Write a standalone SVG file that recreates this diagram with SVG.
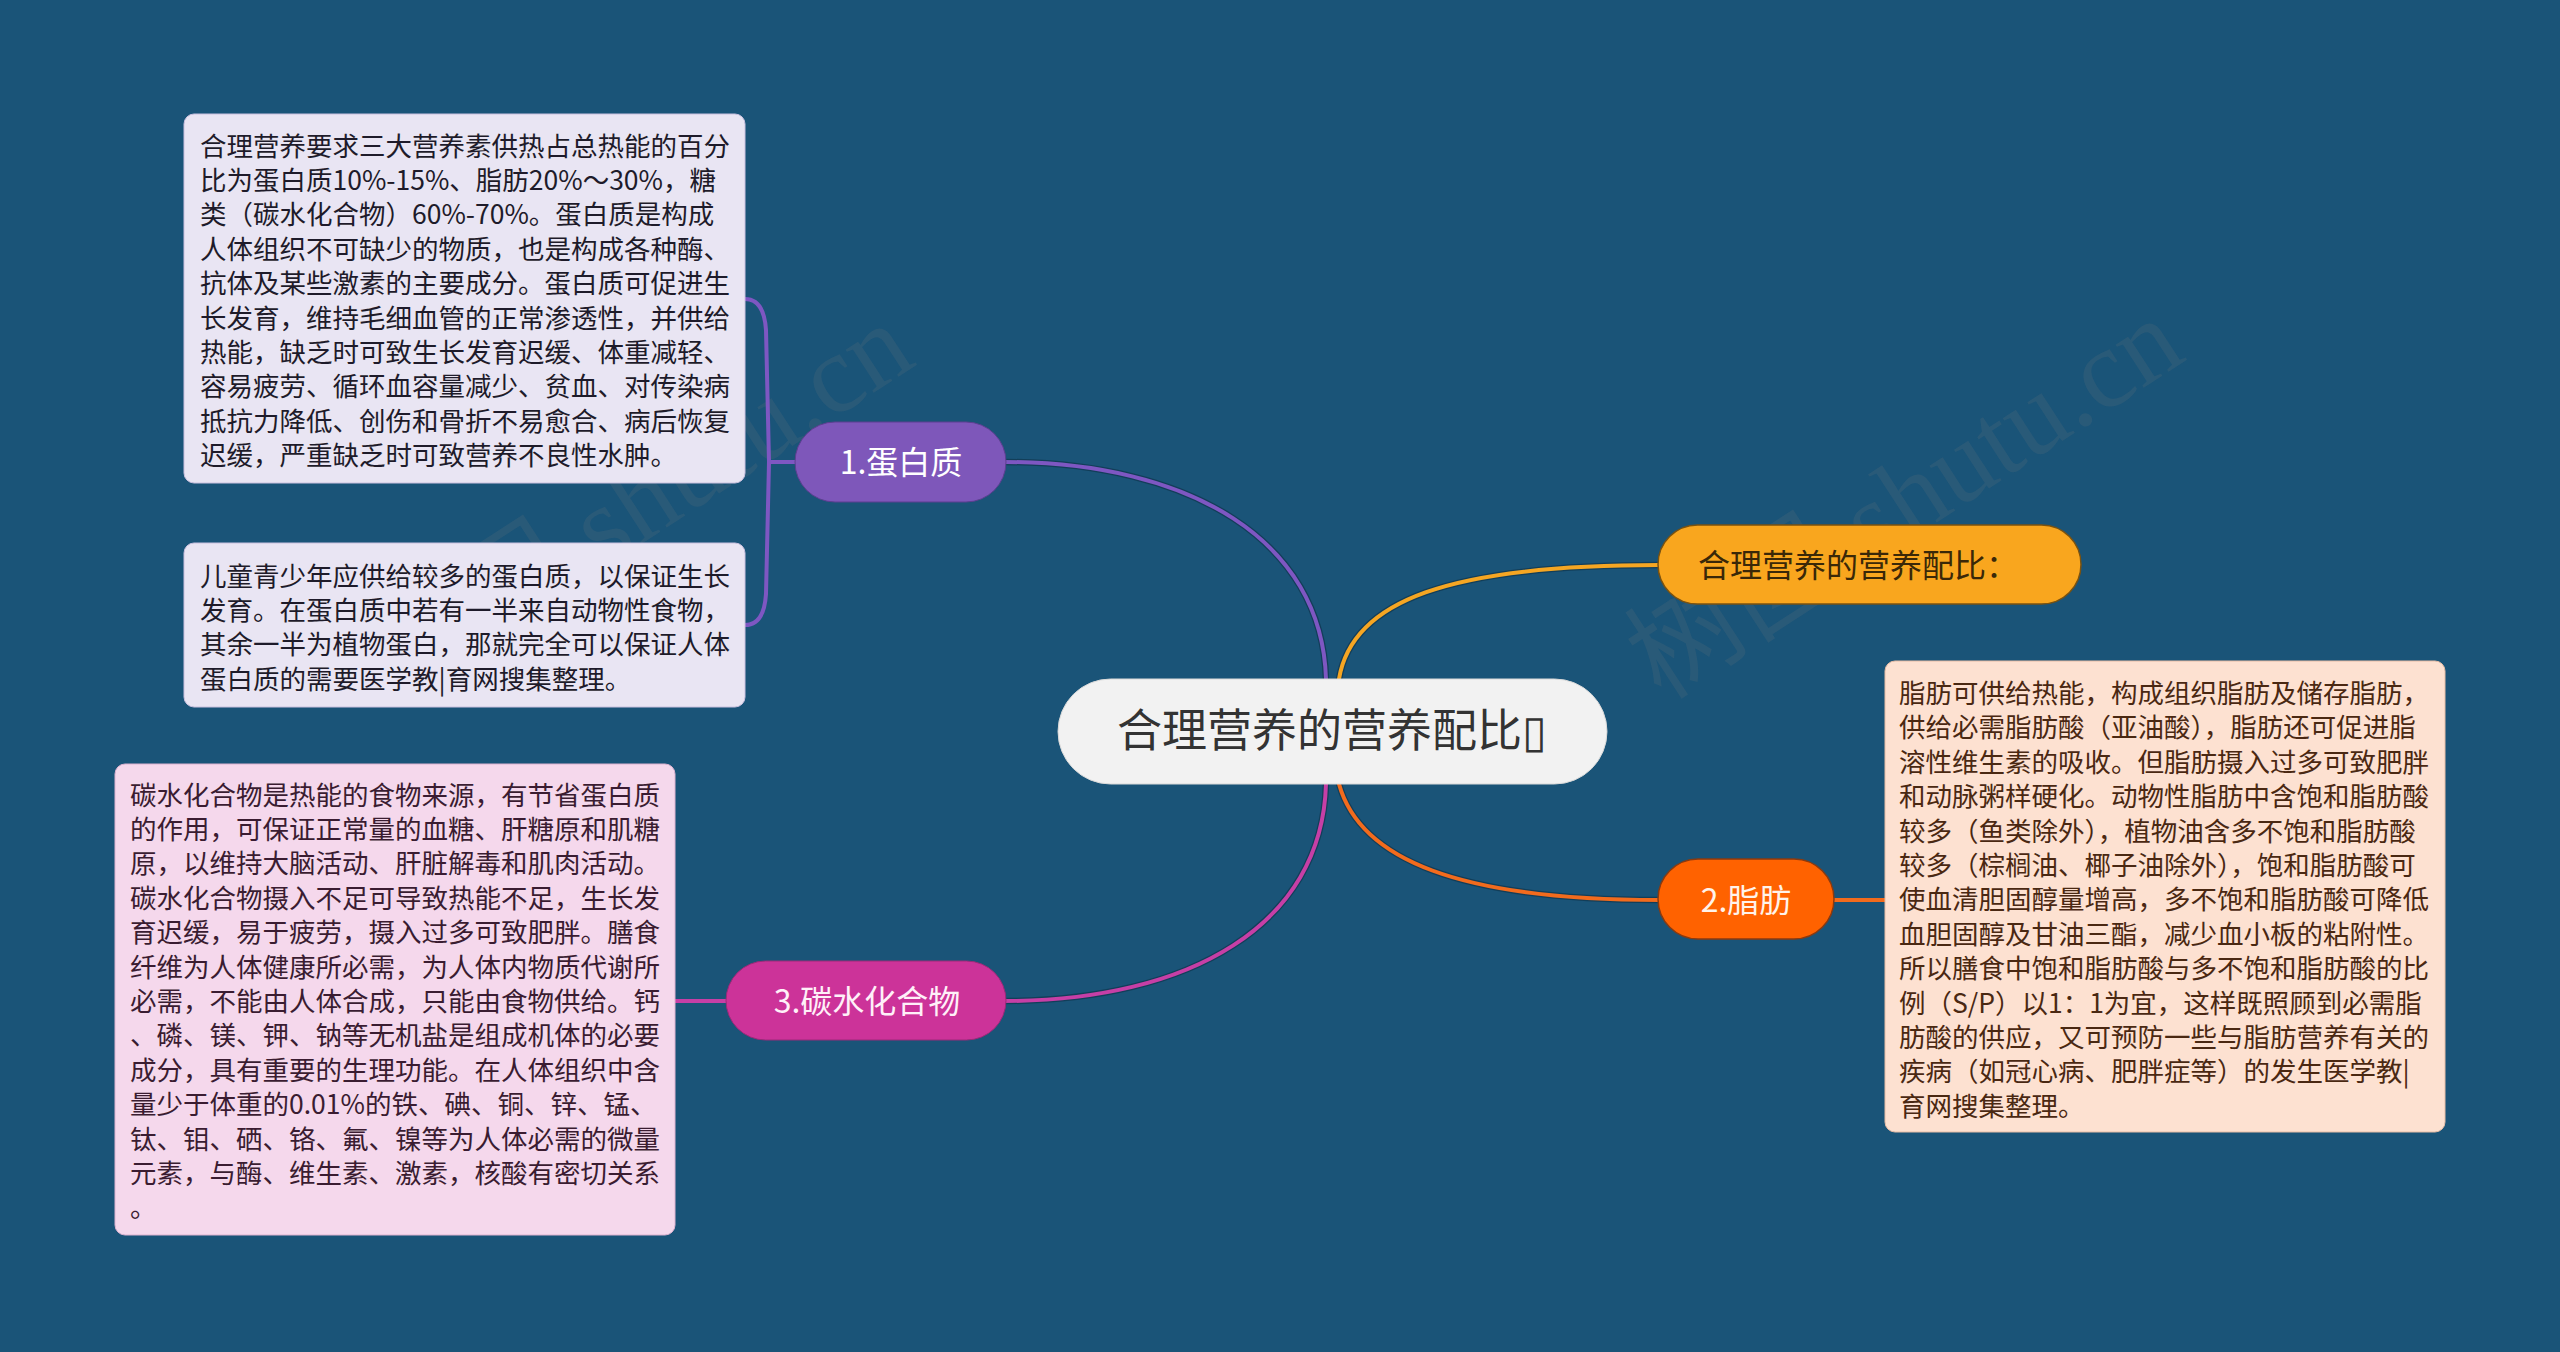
<svg xmlns="http://www.w3.org/2000/svg" width="2560" height="1352" viewBox="0 0 2560 1352">
<defs>
<style>
.bg{fill:#1A5478}
.wm{font-family:"Liberation Serif","Noto Sans CJK SC",serif;font-size:112px;fill:#7a7a7a;fill-opacity:0.16}
.t{font-family:"Noto Sans CJK SC","Noto Sans",sans-serif}
.body{font-size:26.5px}
.node-t{font-size:32px}
.shadow{fill:none;stroke:#0c2c40;stroke-opacity:0.55;stroke-width:6.5;stroke-linecap:round}
.ln{fill:none;stroke-width:4;stroke-linecap:round}
</style>
</defs>
<rect class="bg" x="0" y="0" width="2560" height="1352"/>

<g id="watermarks">
<text class="wm" transform="translate(655,535) rotate(-33)" text-anchor="middle">树图 shutu.cn</text>
<text class="wm" transform="translate(1925,530) rotate(-33)" text-anchor="middle">树图 shutu.cn</text>
</g>

<g id="connectors">
<path class="shadow" d="M1326,679 C1322,540 1190,462 1004,462"/>
<path class="ln" stroke="#7E57C2" d="M1326,679 C1322,540 1190,462 1004,462"/>
<path class="shadow" d="M1339,679 C1352,600 1450,565 1659,565"/>
<path class="ln" stroke="#F5A623" d="M1339,679 C1352,600 1450,565 1659,565"/>
<path class="shadow" d="M1339,784 C1360,860 1460,900 1659,900"/>
<path class="ln" stroke="#F26B1D" d="M1339,784 C1360,860 1460,900 1659,900"/>
<path class="shadow" d="M1326,784 C1322,925 1190,1001 1004,1001"/>
<path class="ln" stroke="#C63FA6" d="M1326,784 C1322,925 1190,1001 1004,1001"/>
<path class="ln" stroke="#7E57C2" d="M795,462 L769,462"/>
<path class="ln" stroke="#7E57C2" d="M745,299 Q764,299 766,330 L769,462 L766,594 Q764,625 745,625"/>
<path class="ln" stroke="#F26B1D" d="M1834,900 L1886,900"/>
<path class="ln" stroke="#C63FA6" d="M726,1001 L674,1001"/>
</g>

<g id="central">
<rect x="1058" y="679" width="549" height="105" rx="52.5" fill="#F2F2F2" stroke="#d9d9d9" stroke-width="1"/>
<text class="t" x="1332" y="747" font-size="45" fill="#333333" text-anchor="middle">合理营养的营养配比▯</text>
</g>

<g id="node-ratio">
<rect x="1658" y="525" width="423" height="79" rx="39.5" fill="#F9A61E" stroke="#7a5210" stroke-width="1.5"/>
<text class="t node-t" x="1698" y="576.5" fill="#3a2808">合理营养的营养配比：</text>
</g>

<g id="node-protein">
<rect x="795" y="422" width="211" height="80" rx="40" fill="#7E57BA" stroke="#5d3f91" stroke-width="1"/>
<text class="t node-t" x="901" y="473.5" fill="#ffffff" text-anchor="middle">1.蛋白质</text>
</g>

<g id="node-fat">
<rect x="1658" y="859" width="176" height="80" rx="40" fill="#FF6200" stroke="#8a3a10" stroke-width="1.5"/>
<text class="t node-t" x="1746" y="911.5" fill="#FFF3EA" text-anchor="middle">2.脂肪</text>
</g>

<g id="node-carb">
<rect x="726" y="961" width="280" height="79" rx="39.5" fill="#CC3399" stroke="#9a2a78" stroke-width="1"/>
<text class="t node-t" x="867" y="1012.5" fill="#FFF0F8" text-anchor="middle">3.碳水化合物</text>
</g>

<g id="box-protein-1">
<rect x="184" y="114" width="561" height="369" rx="10" fill="#E9E5F3" stroke="#c9c0de" stroke-width="1"/>
<text class="t body" fill="#1e1b2a">
<tspan x="200" y="155.5">合理营养要求三大营养素供热占总热能的百分</tspan>
<tspan x="200" y="189.9">比为蛋白质10%-15%、脂肪20%～30%，糖</tspan>
<tspan x="200" y="224.3">类（碳水化合物）60%-70%。蛋白质是构成</tspan>
<tspan x="200" y="258.7">人体组织不可缺少的物质，也是构成各种酶、</tspan>
<tspan x="200" y="293.1">抗体及某些激素的主要成分。蛋白质可促进生</tspan>
<tspan x="200" y="327.5">长发育，维持毛细血管的正常渗透性，并供给</tspan>
<tspan x="200" y="361.9">热能，缺乏时可致生长发育迟缓、体重减轻、</tspan>
<tspan x="200" y="396.3">容易疲劳、循环血容量减少、贫血、对传染病</tspan>
<tspan x="200" y="430.7">抵抗力降低、创伤和骨折不易愈合、病后恢复</tspan>
<tspan x="200" y="465.1">迟缓，严重缺乏时可致营养不良性水肿。</tspan>
</text>
</g>

<g id="box-protein-2">
<rect x="184" y="543" width="561" height="164" rx="10" fill="#E9E5F3" stroke="#c9c0de" stroke-width="1"/>
<text class="t body" fill="#1e1b2a">
<tspan x="200" y="585.5">儿童青少年应供给较多的蛋白质，以保证生长</tspan>
<tspan x="200" y="619.9">发育。在蛋白质中若有一半来自动物性食物，</tspan>
<tspan x="200" y="654.3">其余一半为植物蛋白，那就完全可以保证人体</tspan>
<tspan x="200" y="688.7">蛋白质的需要医学教|育网搜集整理。</tspan>
</text>
</g>

<g id="box-carb">
<rect x="115" y="764" width="560" height="471" rx="10" fill="#F5D8EC" stroke="#dcb2cf" stroke-width="1"/>
<text class="t body" fill="#3a1c31">
<tspan x="130" y="804.5">碳水化合物是热能的食物来源，有节省蛋白质</tspan>
<tspan x="130" y="838.9">的作用，可保证正常量的血糖、肝糖原和肌糖</tspan>
<tspan x="130" y="873.3">原，以维持大脑活动、肝脏解毒和肌肉活动。</tspan>
<tspan x="130" y="907.7">碳水化合物摄入不足可导致热能不足，生长发</tspan>
<tspan x="130" y="942.1">育迟缓，易于疲劳，摄入过多可致肥胖。膳食</tspan>
<tspan x="130" y="976.5">纤维为人体健康所必需，为人体内物质代谢所</tspan>
<tspan x="130" y="1010.9">必需，不能由人体合成，只能由食物供给。钙</tspan>
<tspan x="130" y="1045.3">、磷、镁、钾、钠等无机盐是组成机体的必要</tspan>
<tspan x="130" y="1079.7">成分，具有重要的生理功能。在人体组织中含</tspan>
<tspan x="130" y="1114.1">量少于体重的0.01%的铁、碘、铜、锌、锰、</tspan>
<tspan x="130" y="1148.5">钛、钼、硒、铬、氟、镍等为人体必需的微量</tspan>
<tspan x="130" y="1182.9">元素，与酶、维生素、激素，核酸有密切关系</tspan>
<tspan x="130" y="1217.3">。</tspan>
</text>
</g>

<g id="box-fat">
<rect x="1885" y="661" width="560" height="471" rx="10" fill="#FDE1D1" stroke="#e6bca5" stroke-width="1"/>
<text class="t body" fill="#4a2812">
<tspan x="1899" y="703">脂肪可供给热能，构成组织脂肪及储存脂肪，</tspan>
<tspan x="1899" y="737.4">供给必需脂肪酸（亚油酸），脂肪还可促进脂</tspan>
<tspan x="1899" y="771.8">溶性维生素的吸收。但脂肪摄入过多可致肥胖</tspan>
<tspan x="1899" y="806.2">和动脉粥样硬化。动物性脂肪中含饱和脂肪酸</tspan>
<tspan x="1899" y="840.6">较多（鱼类除外），植物油含多不饱和脂肪酸</tspan>
<tspan x="1899" y="875">较多（棕榈油、椰子油除外），饱和脂肪酸可</tspan>
<tspan x="1899" y="909.4">使血清胆固醇量增高，多不饱和脂肪酸可降低</tspan>
<tspan x="1899" y="943.8">血胆固醇及甘油三酯，减少血小板的粘附性。</tspan>
<tspan x="1899" y="978.2">所以膳食中饱和脂肪酸与多不饱和脂肪酸的比</tspan>
<tspan x="1899" y="1012.6">例（S/P）以1：1为宜，这样既照顾到必需脂</tspan>
<tspan x="1899" y="1047">肪酸的供应，又可预防一些与脂肪营养有关的</tspan>
<tspan x="1899" y="1081.4">疾病（如冠心病、肥胖症等）的发生医学教|</tspan>
<tspan x="1899" y="1115.8">育网搜集整理。</tspan>
</text>
</g>
</svg>
